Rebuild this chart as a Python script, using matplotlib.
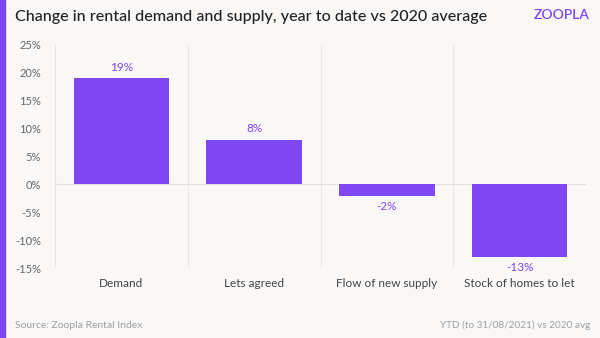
import matplotlib.pyplot as plt
from matplotlib.patches import Rectangle

# data
categories = ['Demand', 'Lets agreed', 'Flow of new supply', 'Stock of homes to let']
values = [19, 8, -2, -13]
y_ticks = [-15, -10, -5, 0, 5, 10, 15, 20, 25]

purple = '#8046f1'
bg = '#f9f8f7'

plt.rcParams['font.family'] = ['Lato', 'DejaVu Sans']

fig = plt.figure(figsize=(6, 3.38), dpi=100, facecolor=bg)
ax = fig.add_axes([0.0917, 0.207, 0.885, 0.66])
ax.set_facecolor(bg)

x = range(len(categories))
ax.bar(x, values, width=0.72, color=purple, zorder=3)

for i, v in enumerate(values):
    if v >= 0:
        ax.annotate(f'{v}%', (i, v), xytext=(0, 4), textcoords='offset points',
                    ha='center', va='bottom', fontsize=8.5, color=purple)
    else:
        ax.annotate(f'{v}%', (i, v), xytext=(0, -4), textcoords='offset points',
                    ha='center', va='top', fontsize=8.5, color=purple)

ax.set_xlim(-0.5, len(categories) - 0.5)
ax.set_ylim(-15, 25)
ax.set_yticks(y_ticks)
ax.set_yticklabels([f'{t}%' for t in y_ticks])
ax.set_xticks(list(x))
ax.set_xticklabels(categories)
ax.tick_params(axis='y', length=0, pad=10, labelsize=8, labelcolor='#666666')
ax.tick_params(axis='x', length=0, pad=7, labelsize=8.5, labelcolor='#444444')

for b in range(len(categories) + 1):
    ax.axvline(b - 0.5, color='#e8e6e4', lw=0.8, zorder=1)
ax.axhline(0, color='#e2e0de', lw=0.8, zorder=2)

for s in ax.spines.values():
    s.set_visible(False)

# left accent strip
fig.patches.append(Rectangle((0, 0), 5 / 600, 1, transform=fig.transFigure,
                             color=purple, zorder=0))

fig.text(15 / 600, 1 - 17 / 338, 'Change in rental demand and supply, year to date vs 2020 average',
         fontsize=11.6, color='#222222', va='center', ha='left', fontweight='medium')
fig.text(590 / 600, 1 - 15 / 338, 'ZOOPLA', fontsize=10, color=purple,
         va='center', ha='right', fontweight='semibold')
fig.text(15 / 600, 1 - 325 / 338, 'Source: Zoopla Rental Index',
         fontsize=7.5, color='#a0a0a0', va='center', ha='left')
fig.text(590 / 600, 1 - 325 / 338, 'YTD (to 31/08/2021) vs 2020 avg',
         fontsize=7.2, color='#a0a0a0', va='center', ha='right')

fig.savefig('out.png', dpi=100, facecolor=bg)
